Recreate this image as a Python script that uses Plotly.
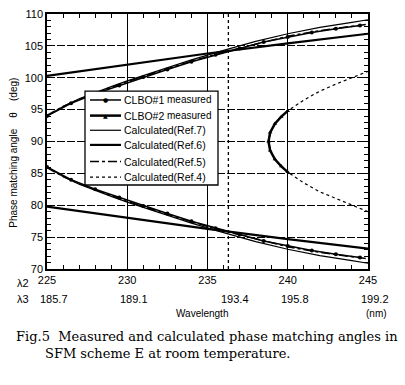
import plotly.graph_objects as go

# ---------------- data ----------------
wl_main = [225, 226, 227, 228, 229, 230, 232, 234, 236, 238, 240, 242, 244, 245]
ref7_up = [94.0, 95.5, 96.7, 97.7, 98.6, 99.5, 101.2, 102.8, 104.3, 105.7, 106.9, 107.9, 108.7, 109.1]
ref7_lo = [86.0, 84.5, 83.3, 82.3, 81.4, 80.5, 78.8, 77.2, 75.7, 74.3, 73.1, 72.1, 71.3, 70.9]
ref5_up = [94.1, 95.5, 96.6, 97.6, 98.5, 99.4, 101.0, 102.6, 104.0, 105.3, 106.5, 107.4, 108.1, 108.4]
ref5_lo = [85.9, 84.5, 83.4, 82.4, 81.5, 80.6, 79.0, 77.4, 76.0, 74.7, 73.5, 72.6, 71.9, 71.6]

clbo1_wl = [225, 226.5, 228, 229.5, 231, 232.5, 234, 235.5, 237, 238.5, 240, 241.5, 243, 244.5]
clbo1_up = [94.0, 96.0, 97.5, 98.8, 100.1, 101.3, 102.5, 103.6, 104.6, 105.6, 106.4, 107.1, 107.7, 108.2]
clbo1_lo = [86.0, 84.0, 82.5, 81.2, 79.9, 78.7, 77.5, 76.4, 75.4, 74.4, 73.6, 72.9, 72.3, 71.8]

ref6_wl = [225, 230, 235, 240, 245]
ref6_up = [100.3, 102.1, 103.8, 105.4, 106.9]
ref6_lo = [79.8, 78.0, 76.3, 74.7, 73.2]

ref4_wl = [245, 244, 243, 242, 241, 240, 239.5, 239, 238.8, 239, 239.5, 240, 241, 242, 243, 244, 245]
ref4_th = [79.0, 80.0, 81.0, 82.1, 83.5, 85.2, 86.3, 88.0, 90.0, 92.0, 93.7, 94.8, 96.5, 97.9, 99.0, 100.0, 101.0]

clbo2_wl = [240.0, 239.6, 239.2, 238.9, 238.8, 238.9, 239.2, 239.6, 240.0]
clbo2_th = [94.8, 93.9, 92.8, 91.4, 90.0, 88.6, 87.2, 86.1, 85.2]

lambda3_pos = [225, 230, 236.3, 240, 245]
lambda3_text = ["185.7", "189.1", "193.4", "195.8", "199.2"]
ncpm_line = 236.3

series_names = ["CLBO#1 measured", "CLBO#2 measured", "Calculated(Ref.7)",
                "Calculated(Ref.6)", "Calculated(Ref.5)", "Calculated(Ref.4)"]

# ---------------- styles ----------------
SANS = "Liberation Sans, Arial, sans-serif"
SERIF = "DejaVu Serif, Liberation Serif, serif"
styles = [
    dict(line=dict(color="black", width=1.5), marker="●"),
    dict(line=dict(color="black", width=2.5), marker="▲"),
    dict(line=dict(color="black", width=1.2), marker=None),
    dict(line=dict(color="black", width=2.2), marker=None),
    dict(line=dict(color="black", width=1.5, dash="dashdot"), marker=None),
    dict(line=dict(color="black", width=1.2, dash="dot"), marker=None),
]

X_RANGE = [225, 245]
Y_RANGE = [70, 110]

def both(x, up, lo):
    return list(x) + [None] + list(x), list(up) + [None] + list(lo)

fig = go.Figure()

x, y = both(clbo1_wl, clbo1_up, clbo1_lo)
fig.add_trace(go.Scatter(x=x, y=y, mode="lines+markers", name=series_names[0],
                         line=styles[0]["line"], marker=dict(symbol="circle", size=4, color="black")))
fig.add_trace(go.Scatter(x=clbo2_wl, y=clbo2_th, mode="lines+markers", name=series_names[1],
                         line=styles[1]["line"], marker=dict(symbol="triangle-up", size=4, color="black")))
x, y = both(wl_main, ref7_up, ref7_lo)
fig.add_trace(go.Scatter(x=x, y=y, mode="lines", name=series_names[2], line=styles[2]["line"]))
x, y = both(ref6_wl, ref6_up, ref6_lo)
fig.add_trace(go.Scatter(x=x, y=y, mode="lines", name=series_names[3], line=styles[3]["line"]))
x, y = both(wl_main, ref5_up, ref5_lo)
fig.add_trace(go.Scatter(x=x, y=y, mode="lines", name=series_names[4], line=styles[4]["line"]))
fig.add_trace(go.Scatter(x=ref4_wl, y=ref4_th, mode="lines", name=series_names[5], line=styles[5]["line"]))

minor = dict(dtick=1, ticks="inside", ticklen=4, tickwidth=1.2, tickcolor="black", showgrid=False)
axis_common = dict(showline=True, linecolor="black", linewidth=1.5, mirror="ticks",
                   ticks="inside", ticklen=5, tickcolor="black", tickwidth=1.2,
                   zeroline=False, tickfont=dict(family=SANS, size=11, color="black"),
                   showgrid=True, gridcolor="black", gridwidth=1, minor=minor)

fig.update_xaxes(range=X_RANGE, tick0=225, dtick=5, **axis_common)
fig.update_yaxes(range=Y_RANGE, tick0=70, dtick=5, griddash="8px,2px", **axis_common)

# plot-area geometry (pixels)
L, T, W, H = 47, 8, 321, 261
def px(xp):
    return (xp - L) / W
def py(yp):
    return (T + H - yp) / H
def dx(xp):   # pixel -> data x
    return X_RANGE[0] + px(xp) * (X_RANGE[1] - X_RANGE[0])
def dy(yp):   # pixel -> data y
    return Y_RANGE[0] + py(yp) * (Y_RANGE[1] - Y_RANGE[0])

fig.add_shape(type="line", xref="x", yref="paper", x0=ncpm_line, x1=ncpm_line, y0=0, y1=1,
              line=dict(color="black", width=1.3, dash="dot"), layer="below")

ann = []
for pos, txt in zip(lambda3_pos, lambda3_text):
    ann.append(dict(x=pos, xref="x", y=py(300), yref="paper", text=txt, showarrow=False,
                    xanchor="left", xshift=-9, yanchor="middle",
                    font=dict(family=SANS, size=11, color="black")))
for lab, yy in (("λ2", 283), ("λ3", 300)):
    ann.append(dict(x=px(23), xref="paper", y=py(yy), yref="paper", text=lab, showarrow=False,
                    xanchor="center", yanchor="middle", font=dict(family=SANS, size=11, color="black")))
ann.append(dict(x=px(202), xref="paper", y=py(315), yref="paper", text="Wavelength", showarrow=False,
                xanchor="center", yanchor="middle", font=dict(family=SANS, size=10, color="black")))
ann.append(dict(x=px(377), xref="paper", y=py(315), yref="paper", text="(nm)", showarrow=False,
                xanchor="center", yanchor="middle", font=dict(family=SANS, size=10, color="black")))
ann.append(dict(x=px(14), xref="paper", y=py(150), yref="paper",
                text="Phase matching angle    θ    (deg)", showarrow=False, textangle=-90,
                xanchor="center", yanchor="middle", font=dict(family=SANS, size=10, color="black")))
ann.append(dict(x=px(14), xref="paper", y=py(338), yref="paper",
                text="Fig.5  Measured and calculated phase matching angles in", showarrow=False,
                xanchor="left", yanchor="middle", font=dict(family=SERIF, size=13, color="black")))
ann.append(dict(x=px(43), xref="paper", y=py(355), yref="paper",
                text="SFM scheme E at room temperature.", showarrow=False,
                xanchor="left", yanchor="middle", font=dict(family=SERIF, size=13, color="black")))

# legend box (drawn from the series styles)
LX0, LX1, LY0, LY1 = 85, 218, 87, 183
fig.add_shape(type="rect", xref="x", yref="y", x0=dx(LX0), x1=dx(LX1), y0=dy(LY1), y1=dy(LY0),
              line=dict(color="black", width=1.3), fillcolor="white", layer="above")
row_y = [96, 112, 127, 142, 159, 175]
for name, st, ry in zip(series_names, styles, row_y):
    fig.add_shape(type="line", xref="paper", yref="paper", x0=px(90), x1=px(121),
                  y0=py(ry), y1=py(ry), line=st["line"], layer="above")
    if st["marker"]:
        ann.append(dict(x=px(105), xref="paper", y=py(ry), yref="paper", text=st["marker"],
                        showarrow=False, xanchor="center", yanchor="middle",
                        font=dict(family="DejaVu Sans", size=6, color="black")))
    parts = name.split(" ")
    ann.append(dict(x=px(122), xref="paper", y=py(ry), yref="paper", text=parts[0], showarrow=False,
                    xanchor="left", yanchor="middle", font=dict(family=SANS, size=10.5, color="black")))
    if len(parts) > 1:
        ann.append(dict(x=px(213), xref="paper", y=py(ry), yref="paper", text=parts[1], showarrow=False,
                        xanchor="right", yanchor="middle", font=dict(family=SANS, size=10, color="black")))

fig.update_layout(
    width=405, height=385,
    margin=dict(l=L, r=405 - L - W, t=T, b=385 - T - H),
    paper_bgcolor="white", plot_bgcolor="white",
    showlegend=False,
    annotations=ann,
)

fig.write_html("out.html", config={"displayModeBar": False},
               post_script="document.body.style.margin='0';")
